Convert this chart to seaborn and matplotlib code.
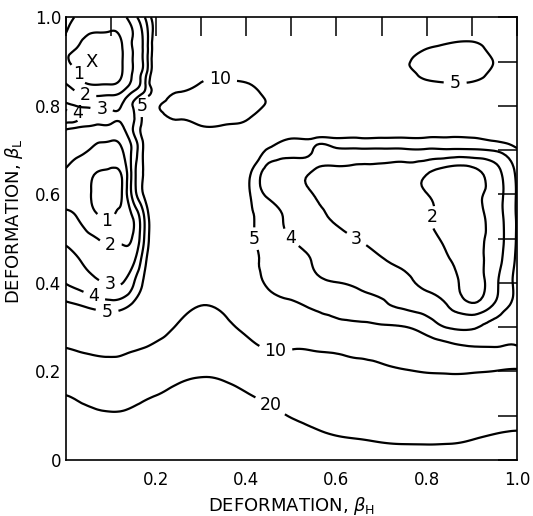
import numpy as np
import matplotlib
matplotlib.use("Agg")
import matplotlib.pyplot as plt
import matplotlib.tri as mtri
import seaborn as sns

# Deformation grid (light- and heavy-fragment deformations)
beta_h = [0, 0.025, 0.05, 0.075, 0.1, 0.125, 0.15, 0.175, 0.2, 0.25, 0.3, 0.35,
          0.4, 0.45, 0.5, 0.55, 0.6, 0.65, 0.7, 0.75, 0.8, 0.85, 0.9, 0.95, 1.0]
beta_l = [0, 0.05, 0.1, 0.15, 0.2, 0.25, 0.3, 0.35, 0.4, 0.45, 0.5, 0.55, 0.6,
          0.65, 0.7, 0.725, 0.75, 0.775, 0.8, 0.825, 0.85, 0.875, 0.9, 0.925, 0.95, 1.0]

# Potential energy (MeV), one row per beta_L value, columns follow beta_h
energy = [
    [31, 30, 29.2, 28.7, 28.5, 28.6, 29.2, 30.2, 31.5, 35, 37, 36.5, 34.5, 31.5, 28.5, 26.0, 24.2, 23.4, 22.8, 22.6, 22.5, 22.6, 23.2, 24.3, 25.2],
    [27, 26, 25.2, 24.7, 24.5, 24.6, 25.2, 26.2, 27.5, 31, 33, 32.5, 30.5, 27.5, 24.5, 22.0, 20.4, 19.8, 19.2, 18.9, 18.8, 18.9, 19.6, 20.9, 21.8],
    [23.0, 22.0, 21.2, 20.7, 20.5, 20.6, 21.2, 22.2, 23.5, 27.0, 29.0, 28.0, 25.5, 22.5, 19.6, 18.0, 17.0, 16.3, 15.8, 15.4, 15.0, 14.9, 15.1, 15.6, 16.2],
    [19.7, 18.8, 18.0, 17.5, 17.3, 17.4, 17.9, 18.7, 19.6, 22.5, 24.0, 23.0, 20.3, 18.0, 16.5, 15.4, 14.6, 14.0, 13.5, 13.0, 12.6, 12.4, 12.5, 12.8, 13.3],
    [14.0, 13.3, 12.7, 12.3, 12.2, 12.3, 12.8, 13.5, 14.5, 17.0, 18.8, 18.0, 16.0, 14.0, 12.8, 12.1, 11.6, 11.2, 10.8, 10.3, 9.8, 9.6, 9.7, 10.1, 10.6],
    [10.2, 9.8, 9.5, 9.3, 9.2, 9.4, 9.8, 10.2, 10.9, 12.8, 15.0, 14.0, 11.8, 9.9, 9.95, 9.8, 9.5, 9.0, 8.5, 7.4, 6.4, 5.8, 5.35, 5.3, 5.4],
    [7.2, 7.0, 6.8, 6.7, 6.7, 6.8, 7.1, 7.6, 8.4, 10.4, 12.0, 11.0, 9.2, 7.6, 6.8, 6.3, 5.9, 5.6, 5.3, 5.05, 4.5, 3.95, 3.9, 4.3, 4.9],
    [5.25, 5.05, 4.8, 4.55, 4.4, 4.6, 5.2, 6.0, 7.0, 8.6, 9.95, 9.3, 7.6, 6.0, 5.2, 4.85, 4.6, 4.35, 4.1, 3.85, 3.55, 2.9, 2.15, 3.1, 4.4],
    [3.97, 3.7, 3.4, 3.1, 2.95, 2.97, 3.9, 5.2, 6.0, 6.8, 7.5, 7.0, 6.1, 4.75, 4.45, 4.2, 4.02, 3.8, 3.55, 3.25, 2.8, 2.4, 1.6, 2.7, 4.3],
    [3.4, 3.1, 2.8, 2.5, 2.35, 2.45, 2.8, 4.7, 6.0, 6.6, 6.9, 6.4, 5.5, 4.7, 4.3, 3.95, 3.6, 3.3, 3.05, 2.85, 2.6, 2.05, 1.75, 2.5, 4.2],
    [2.8, 2.55, 2.25, 1.95, 1.8, 1.85, 2.1, 4.1, 6.0, 6.9, 7.1, 6.6, 5.35, 4.6, 3.98, 3.6, 3.25, 2.97, 2.75, 2.55, 2.3, 1.8, 1.75, 2.4, 4.1],
    [2.25, 1.98, 1.35, 1.02, 0.92, 1.3, 2.1, 4.1, 6.2, 7.2, 7.4, 6.9, 5.4, 4.5, 3.7, 3.2, 2.9, 2.65, 2.5, 2.35, 2.15, 1.6, 1.6, 2.45, 4.1],
    [1.6, 1.35, 1.1, 0.8, 0.75, 1.02, 3.4, 5.2, 6.8, 7.6, 7.8, 7.3, 5.4, 3.8, 3.45, 2.98, 2.7, 2.5, 2.35, 2.25, 2.03, 1.5, 1.6, 2.5, 4.1],
    [1.9, 1.65, 1.3, 0.95, 0.85, 1.15, 3.5, 5.2, 7.0, 7.9, 8.2, 7.8, 5.6, 3.6, 3.25, 2.9, 2.7, 2.6, 2.5, 2.4, 2.1, 1.5, 1.6, 2.6, 4.2],
    [2.45, 2.2, 2.02, 1.7, 1.6, 1.95, 3.3, 5.3, 7.2, 8.2, 8.6, 8.3, 7.0, 4.85, 4.15, 3.95, 3.9, 3.9, 3.9, 3.9, 3.9, 3.9, 3.9, 4.08, 4.9],
    [2.6, 2.45, 2.25, 2.15, 2.1, 2.3, 3.6, 5.4, 7.4, 8.6, 9.0, 8.8, 7.8, 6.2, 4.9, 4.85, 4.85, 4.85, 4.85, 4.85, 4.85, 4.85, 4.9, 5.15, 5.4],
    [3.2, 2.95, 2.8, 2.75, 2.75, 2.85, 4.05, 5.7, 7.8, 9.3, 9.8, 9.7, 9.3, 8.3, 7.5, 7.0, 6.6, 6.3, 6.1, 6.0, 5.9, 5.8, 5.7, 5.6, 5.6],
    [4.6, 4.3, 3.7, 3.3, 3.2, 3.15, 3.9, 5.5, 8.0, 10.3, 10.9, 10.9, 10.3, 9.0, 8.0, 7.4, 7.0, 6.8, 6.6, 6.5, 6.4, 6.3, 6.2, 6.1, 6.2],
    [3.4, 2.95, 2.8, 2.75, 2.8, 3.05, 4.05, 5.6, 9.3, 11.2, 11.6, 11.6, 11.0, 9.7, 8.5, 7.8, 7.3, 7.0, 6.8, 6.6, 6.5, 6.4, 6.3, 6.3, 6.4],
    [2.5, 2.15, 1.98, 1.9, 1.95, 2.3, 3.4, 4.3, 6.5, 10.4, 10.9, 11.0, 10.7, 9.6, 8.4, 7.6, 7.0, 6.5, 6.2, 6.0, 5.9, 5.8, 5.8, 5.9, 6.1],
    [2.02, 1.4, 0.98, 0.93, 0.95, 1.3, 2.3, 3.8, 6.4, 8.8, 10.1, 10.3, 10.1, 9.0, 8.0, 7.4, 6.8, 6.2, 5.8, 5.5, 5.2, 5.05, 5.1, 5.4, 5.8],
    [1.3, 1.03, 0.7, 0.6, 0.62, 0.97, 2.1, 3.5, 6.2, 8.2, 9.2, 9.4, 9.0, 8.4, 7.7, 7.2, 6.6, 6.0, 5.5, 5.3, 4.7, 4.5, 4.6, 5.2, 5.5],
    [1.1, 0.85, 0.68, 0.6, 0.62, 0.95, 2.05, 3.3, 6.0, 7.8, 8.6, 8.8, 8.4, 8.0, 7.5, 7.1, 6.6, 6.1, 5.6, 5.15, 4.6, 4.3, 4.35, 5.05, 5.5],
    [1.2, 0.95, 0.8, 0.72, 0.72, 0.95, 2.05, 3.3, 5.9, 7.5, 8.3, 8.5, 8.2, 7.8, 7.4, 7.1, 6.8, 6.4, 6.0, 5.6, 4.9, 4.6, 4.6, 5.3, 5.9],
    [1.8, 1.2, 0.9, 0.85, 0.85, 1.05, 2.1, 3.3, 5.8, 7.2, 8.0, 8.2, 8.0, 7.6, 7.3, 7.0, 6.8, 6.5, 6.3, 6.0, 5.6, 5.2, 5.1, 5.4, 5.9],
    [2.4, 1.9, 1.6, 1.5, 1.55, 1.7, 2.6, 3.95, 5.7, 7.0, 7.8, 8.0, 7.8, 7.5, 7.2, 7.0, 6.8, 6.6, 6.5, 6.3, 6.0, 5.8, 5.8, 6.0, 6.3],
]

levels = [1, 2, 3, 4, 5, 10, 20]

# Location of the lowest minimum
minimum_bh = [0.058]
minimum_bl = [0.898]

# Where each contour gets its value written
label_spots = {
    1: [(0.028, 0.872), (0.091, 0.540)],
    2: [(0.043, 0.827), (0.099, 0.474), (0.822, 0.546)],
    3: [(0.081, 0.788), (0.095, 0.390), (0.645, 0.500)],
    4: [(0.025, 0.779), (0.062, 0.367), (0.497, 0.500)],
    5: [(0.166, 0.801), (0.091, 0.326), (0.416, 0.499), (0.863, 0.852)],
    10: [(0.342, 0.856), (0.465, 0.248)],
    20: [(0.453, 0.122)],
}

sns.set_theme(style="white")
plt.rcParams["font.family"] = ["DejaVu Sans"]
plt.rcParams["mathtext.fontset"] = "dejavusans"
for key in ("text.color", "axes.labelcolor", "xtick.color", "ytick.color",
            "axes.edgecolor"):
    plt.rcParams[key] = "black"

fig = plt.figure(figsize=(5.33, 5.16), dpi=100)
ax = fig.add_axes([0.123, 0.1085, 0.847, 0.858])
ax.set_xlim(0, 1.0)
ax.set_ylim(0, 1.0)

BH, BL = np.meshgrid(np.array(beta_h), np.array(beta_l))
Z = np.array(energy, dtype=float)

triang = mtri.Triangulation(BH.ravel(), BL.ravel())
interp = mtri.CubicTriInterpolator(triang, Z.ravel(), kind="min_E")
refiner = mtri.UniformTriRefiner(triang)
tri_fine, z_fine = refiner.refine_field(Z.ravel(), triinterpolator=interp, subdiv=3)

# one contour set per level so each can carry its own hand-placed labels
for lev in levels:
    cs = ax.tricontour(tri_fine, z_fine, levels=[lev], colors="black",
                       linewidths=1.6)
    spots = label_spots.get(lev)
    if spots:
        texts = ax.clabel(cs, manual=spots, inline=True, inline_spacing=6,
                          fmt="%d", fontsize=12.5)
        for t in texts:
            t.set_rotation(0)

ax.text(minimum_bh[0], minimum_bl[0], "X", ha="center", va="center",
        fontsize=13, color="black")

ticks = np.round(np.arange(0, 1.01, 0.1), 1)
ax.set_xticks(ticks)
ax.set_yticks(ticks)
ax.set_xticklabels(["", "", "0.2", "", "0.4", "", "0.6", "", "0.8", "", "1.0"])
ax.set_yticklabels(["0", "", "0.2", "", "0.4", "", "0.6", "", "0.8", "", "1.0"])
ax.tick_params(axis="both", direction="in", length=13.5, width=1.1,
               top=True, right=True, labelsize=12, colors="black")
ax.tick_params(axis="x", pad=8)
ax.tick_params(axis="y", pad=3)

for sp in ax.spines.values():
    sp.set_visible(True)
    sp.set_color("black")
    sp.set_linewidth(1.2)

ax.set_xlabel(r"DEFORMATION, $\beta_{\mathrm{H}}$", fontsize=13)
ax.set_ylabel(r"DEFORMATION, $\beta_{\mathrm{L}}$", fontsize=13)
ax.xaxis.set_label_coords(0.5, -0.078)
ax.yaxis.set_label_coords(-0.09, 0.54)

fig.savefig("out.png", dpi=100, facecolor="white")
